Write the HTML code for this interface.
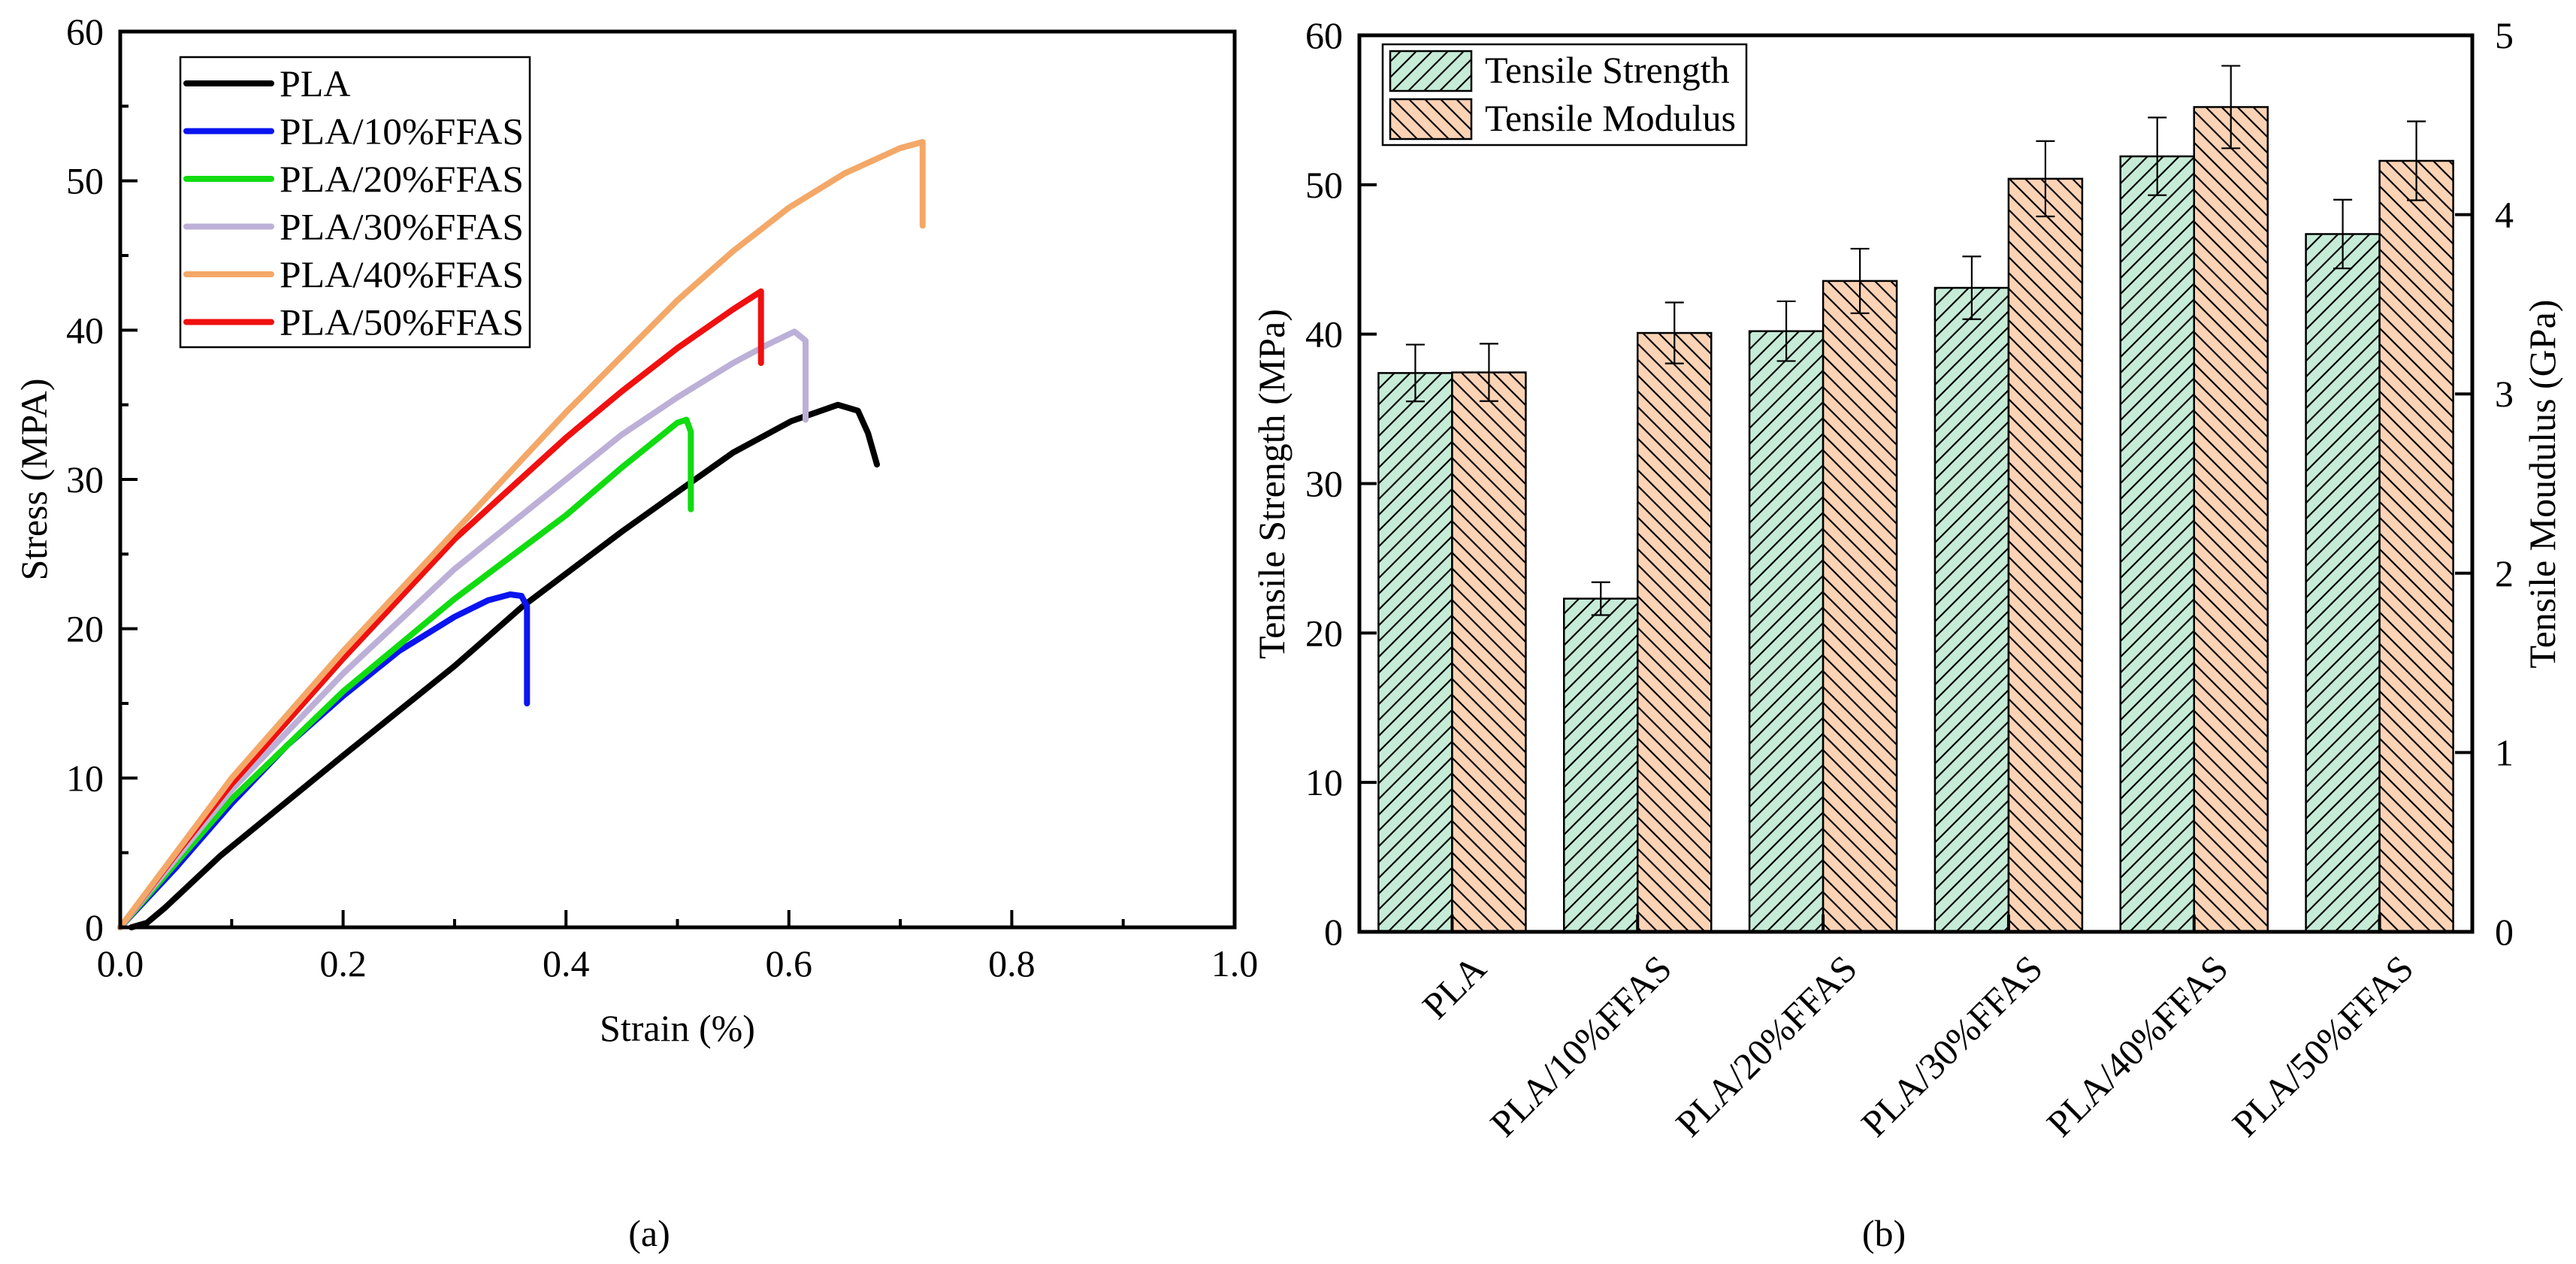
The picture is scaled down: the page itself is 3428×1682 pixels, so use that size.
<!DOCTYPE html>
<html><head><meta charset="utf-8"><style>
html,body{margin:0;padding:0;background:#fff;}
svg{display:block;}
svg text{font-family:"Liberation Serif","Times New Roman",serif;}
</style></head><body>
<svg id="fig" width="3428" height="1682" viewBox="0 0 3428 1682" xmlns="http://www.w3.org/2000/svg" font-family="Liberation Serif, serif">
<defs>
<pattern id="hatchG" patternUnits="userSpaceOnUse" width="21" height="21">
<rect width="21" height="21" fill="#c6ecd7"/>
<path d="M-5,5 L5,-5 M0,21 L21,0 M16,26 L26,16" stroke="#000" stroke-width="2.2"/>
</pattern>
<pattern id="hatchO" patternUnits="userSpaceOnUse" width="21" height="21">
<rect width="21" height="21" fill="#fdd3b5"/>
<path d="M-5,16 L5,26 M0,0 L21,21 M16,-5 L26,5" stroke="#000" stroke-width="2.2"/>
</pattern>
</defs>
<g id="chartA"></g>
<g id="chartB"></g>
</svg>
<script>
// ---- Chart (a) data ----
const seriesNames = ["PLA","PLA/10%FFAS","PLA/20%FFAS","PLA/30%FFAS","PLA/40%FFAS","PLA/50%FFAS"];
const seriesColors = ["#000000","#0a14f0","#10dc10","#bcb0d8","#f4a868","#f01010"];
const strainPLA = [0.01,0.024,0.04,0.09,0.2,0.3,0.361,0.45,0.512,0.55,0.602,0.644,0.662,0.671,0.679];
const stressPLA = [0,0.3,1.3,4.8,11.5,17.5,21.5,26.5,29.8,31.8,33.9,35,34.6,33.1,31];
const strain10 = [0,0.05,0.1,0.15,0.2,0.25,0.3,0.33,0.35,0.36,0.365,0.365];
const stress10 = [0,4,8.3,12.2,15.5,18.5,20.8,21.9,22.3,22.2,21.5,15];
const strain20 = [0,0.05,0.1,0.2,0.3,0.35,0.4,0.45,0.5,0.508,0.512,0.512];
const stress20 = [0,4.3,8.6,15.8,22,24.8,27.6,30.8,33.8,34,33.2,28];
const strain30 = [0,0.05,0.1,0.2,0.3,0.4,0.45,0.5,0.55,0.58,0.605,0.615,0.615];
const stress30 = [0,4.6,9.2,17,24,30,33,35.5,37.8,39,39.9,39.3,34];
const strain40 = [0,0.05,0.1,0.2,0.3,0.4,0.5,0.55,0.6,0.65,0.7,0.72,0.72];
const stress40 = [0,5,10,18.5,26.5,34.5,42,45.3,48.2,50.5,52.2,52.6,47];
const strain50 = [0,0.05,0.1,0.2,0.3,0.4,0.45,0.5,0.55,0.575,0.575];
const stress50 = [0,4.9,9.6,18,26,32.8,35.9,38.8,41.4,42.6,37.8];
const xTicksA = ["0.0","0.2","0.4","0.6","0.8","1.0"];
const yTicksA = ["0","10","20","30","40","50","60"];

// ---- Chart (b) data ----
const categories = ["PLA","PLA/10%FFAS","PLA/20%FFAS","PLA/30%FFAS","PLA/40%FFAS","PLA/50%FFAS"];
const strengthVals = [37.4,22.3,40.2,43.1,51.9,46.7];
const strengthErr = [1.9,1.1,2.0,2.1,2.6,2.3];
const modulusVals = [3.12,3.34,3.63,4.2,4.6,4.3];
const modulusErr = [0.16,0.17,0.18,0.21,0.23,0.22];
const yTicksB = ["0","10","20","30","40","50","60"];
const yTicksB2 = ["0","1","2","3","4","5"];

const NS="http://www.w3.org/2000/svg";
const FF="Liberation Serif, Times New Roman, serif";
function mk(parent,tag,attrs,text){const e=document.createElementNS(NS,tag);for(const k in attrs)e.setAttribute(k,attrs[k]);if(tag==='text')e.setAttribute('font-family',FF);if(text!==undefined)e.textContent=text;parent.appendChild(e);return e;}

// ===== Chart A =====
const A=document.getElementById('chartA');
const aL=160,aR=1643,aT=42,aB=1234;
const ax=v=>aL+(v-0)/(1-0)*(aR-aL);
const ay=v=>aB-(v-0)/(60-0)*(aB-aT);
const curves=[[strainPLA,stressPLA],[strain10,stress10],[strain20,stress20],[strain30,stress30],[strain40,stress40],[strain50,stress50]];
const curveOrder=[0,1,2,3,5,4];
curveOrder.forEach(i=>{
  const [xs,ys]=curves[i];
  const d=xs.map((x,j)=>(j?'L':'M')+ax(x).toFixed(1)+','+ay(ys[j]).toFixed(1)).join(' ');
  const p=mk(A,'path',{d:d,fill:'none',stroke:seriesColors[i],'stroke-width':8,'stroke-linejoin':'round','stroke-linecap':'round'});
  
  
});
const fa=mk(A,'rect',{x:aL,y:aT,width:aR-aL,height:aB-aT,fill:'none',stroke:'#000','stroke-width':5});


for(let k=0;k<=10;k++){
  const v=k/10,x=ax(v),len=k%2===0?23:11;
  const t=mk(A,'line',{x1:x,y1:aB,x2:x,y2:aB-len,stroke:'#000','stroke-width':4});
  
  
}
xTicksA.forEach((s,k)=>{
  const t=mk(A,'text',{x:ax(k*0.2),y:1299,'font-size':50,'text-anchor':'middle'},s);
  
  
});
for(let k=0;k<=12;k++){
  const y=ay(k*5),len=k%2===0?23:11;
  const t=mk(A,'line',{x1:aL,y1:y,x2:aL+len,y2:y,stroke:'#000','stroke-width':4});
  
  
}
yTicksA.forEach((s,k)=>{
  const t=mk(A,'text',{x:aL-22,y:ay(k*10)+17,'font-size':50,'text-anchor':'end'},s);
  
  
});
let tt=mk(A,'text',{x:ax(0.5),y:1385,'font-size':50,'text-anchor':'middle'},'Strain (%)');


tt=mk(A,'text',{x:0,y:0,'font-size':50,'text-anchor':'middle',transform:'translate(62,638) rotate(-90)'},'Stress (MPA)');


tt=mk(A,'text',{x:864,y:1658,'font-size':50,'text-anchor':'middle'},'(a)');


const lg=mk(A,'g',{});


const lb=mk(lg,'rect',{x:240,y:76,width:465,height:386,fill:'#fff',stroke:'#000','stroke-width':2.5});


seriesNames.forEach((n,i)=>{
  const y=111+i*63.5;
  const l=mk(lg,'line',{x1:248,y1:y,x2:361,y2:y,stroke:seriesColors[i],'stroke-width':8,'stroke-linecap':'round'});
  
  
  const t=mk(lg,'text',{x:372,y:y+17,'font-size':50,textLength:325,lengthAdjust:'spacingAndGlyphs'},n);
  if(n==='PLA'){t.removeAttribute('textLength');t.removeAttribute('lengthAdjust');}
  
  
});

// ===== Chart B =====
const B=document.getElementById('chartB');
const bL=1809,bR=3290,bT=47,bB=1240;
const band=(bR-bL)/categories.length, bw=98;
const bx=i=>bL+band*(i+0.5);
const by=v=>bB-(v-0)/(60-0)*(bB-bT);
const by2=v=>bB-(v-0)/(5-0)*(bB-bT);
categories.forEach((c,i)=>{
  const c0=bx(i);
  const g=mk(B,'rect',{x:c0-bw,y:by(strengthVals[i]),width:bw,height:bB-by(strengthVals[i]),fill:'url(#hatchG)',stroke:'#000','stroke-width':2.5});
  
  
  const o=mk(B,'rect',{x:c0,y:by2(modulusVals[i]),width:bw,height:bB-by2(modulusVals[i]),fill:'url(#hatchO)',stroke:'#000','stroke-width':2.5});
  
  
  [[c0-bw/2,by(strengthVals[i]-strengthErr[i]),by(strengthVals[i]+strengthErr[i])],[c0+bw/2,by2(modulusVals[i]-modulusErr[i]),by2(modulusVals[i]+modulusErr[i])]].forEach(([x,y1,y2])=>{
    const e=mk(B,'path',{d:`M${x},${y1} L${x},${y2} M${x-12.5},${y1} L${x+12.5},${y1} M${x-12.5},${y2} L${x+12.5},${y2}`,stroke:'#000','stroke-width':2.2,fill:'none'});
    
    
  });
  const t=mk(B,'text',{x:0,y:0,'font-size':50,'text-anchor':'end',transform:`translate(${c0+48},${bB+52}) rotate(-45)`},c);
  
  
  const tk=mk(B,'line',{x1:c0,y1:bB,x2:c0,y2:bB-23,stroke:'#000','stroke-width':4});
  
  
});
const fb=mk(B,'rect',{x:bL,y:bT,width:bR-bL,height:bB-bT,fill:'none',stroke:'#000','stroke-width':5});


yTicksB.forEach((s,k)=>{
  const y=by(k*10);
  const l=mk(B,'line',{x1:bL,y1:y,x2:bL+23,y2:y,stroke:'#000','stroke-width':4});
  
  
  const t=mk(B,'text',{x:bL-22,y:y+17,'font-size':50,'text-anchor':'end'},s);
  
  
});
yTicksB2.forEach((s,k)=>{
  const y=by2(k);
  const l=mk(B,'line',{x1:bR,y1:y,x2:bR-23,y2:y,stroke:'#000','stroke-width':4});
  
  
  const t=mk(B,'text',{x:bR+30,y:y+17,'font-size':50,'text-anchor':'start'},s);
  
  
});
tt=mk(B,'text',{x:0,y:0,'font-size':50,'text-anchor':'middle',transform:'translate(1709,644) rotate(-90)'},'Tensile Strength (MPa)');


tt=mk(B,'text',{x:0,y:0,'font-size':50,'text-anchor':'middle',transform:'translate(3400,644) rotate(-90)'},'Tensile Moudulus (GPa)');


tt=mk(B,'text',{x:2507,y:1658,'font-size':50,'text-anchor':'middle'},'(b)');


const lg2=mk(B,'g',{});


const lb2=mk(lg2,'rect',{x:1840,y:59,width:484,height:134,fill:'#fff',stroke:'#000','stroke-width':2.5});


[['Tensile Strength','url(#hatchG)',68],['Tensile Modulus','url(#hatchO)',132]].forEach(([n,f,y])=>{
  const r=mk(lg2,'rect',{x:1850,y:y,width:108,height:53,fill:f,stroke:'#000','stroke-width':2.5});
  
  
  const t=mk(lg2,'text',{x:1976,y:y+42,'font-size':50},n);
  
  
});
</script>
</body></html>
